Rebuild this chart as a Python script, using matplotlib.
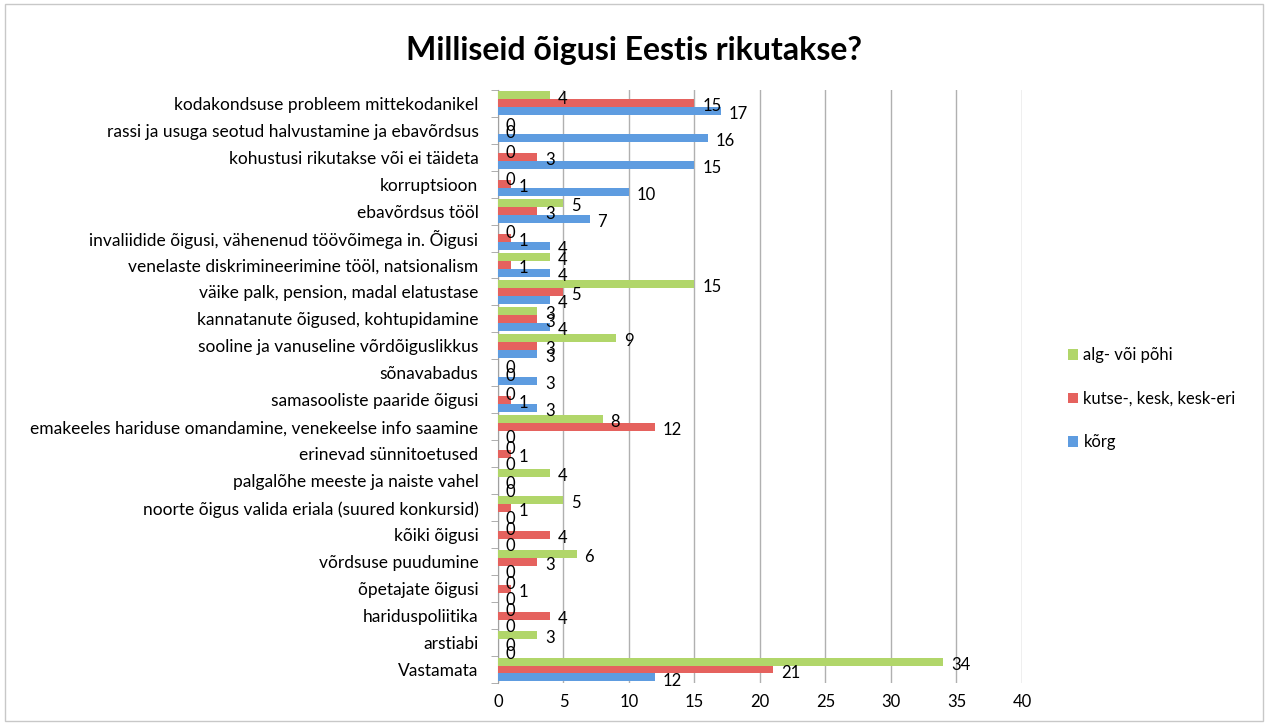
import numpy as np
import matplotlib.pyplot as plt
from matplotlib.patches import Rectangle

plt.rcParams['font.family'] = ['Lato', 'DejaVu Sans']

categories = [
    "kodakondsuse probleem mittekodanikel",
    "rassi ja usuga seotud halvustamine ja ebavõrdsus",
    "kohustusi rikutakse või ei täideta",
    "korruptsioon",
    "ebavõrdsus tööl",
    "invaliidide õigusi, vähenenud töövõimega in. Õigusi",
    "venelaste diskrimineerimine tööl, natsionalism",
    "väike palk, pension, madal elatustase",
    "kannatanute õigused, kohtupidamine",
    "sooline ja vanuseline võrdõiguslikkus",
    "sõnavabadus",
    "samasooliste paaride õigusi",
    "emakeeles hariduse omandamine, venekeelse info saamine",
    "erinevad sünnitoetused",
    "palgalõhe meeste ja naiste vahel",
    "noorte õigus valida eriala (suured konkursid)",
    "kõiki õigusi",
    "võrdsuse puudumine",
    "õpetajate õigusi",
    "hariduspoliitika",
    "arstiabi",
    "Vastamata",
]
alg = [4, 0, 0, 0, 5, 0, 4, 15, 3, 9, 0, 0, 8, 0, 4, 5, 0, 6, 0, 0, 3, 34]
kutse = [15, 0, 3, 1, 3, 1, 1, 5, 3, 3, 0, 1, 12, 1, 0, 1, 4, 3, 1, 4, 0, 21]
korg = [17, 16, 15, 10, 7, 4, 4, 4, 4, 3, 3, 3, 0, 0, 0, 0, 0, 0, 0, 0, 0, 12]

series = [
    ("alg- või põhi", alg, "#b1d66a"),
    ("kutse-, kesk, kesk-eri", kutse, "#e5625e"),
    ("kõrg", korg, "#5e9ce0"),
]

fig = plt.figure(figsize=(12.68, 7.24), dpi=100)
fig.patches.append(Rectangle((0.004, 0.004), 0.992, 0.99, transform=fig.transFigure,
                             fill=False, edgecolor="#c8c8c8", linewidth=1))
ax = fig.add_axes([0.3927, 0.0566, 0.4133, 0.8195])

n = len(categories)
y = np.arange(n)
h = 0.29
offsets = [-h, 0, h]
for (name, vals, col), off in zip(series, offsets):
    ax.barh(y + off, vals, height=h, color=col, label=name, zorder=3)
    for yi, v in zip(y, vals):
        ax.text(v + 0.6, yi + off + 0.12, str(v), va="center", ha="left",
                fontsize=12, color="black", zorder=4)

ax.set_ylim(n - 0.5, -0.5)
ax.set_xlim(0, 40)
ax.set_xticks(range(0, 41, 5))
ax.set_yticks(y)
ax.set_yticklabels(categories, fontsize=12.5)
ax.set_yticks(np.arange(-0.5, n, 1), minor=True)
ax.tick_params(axis="y", which="major", length=0, pad=14)
ax.tick_params(axis="y", which="minor", length=5, color="#a0a0a0")
ax.tick_params(axis="x", length=0, labelsize=12, pad=8)
ax.grid(axis="x", color="#b0b0b0", linewidth=1, zorder=0)
for s in ["top", "right", "bottom"]:
    ax.spines[s].set_visible(False)
ax.spines["left"].set_color("#a0a0a0")

fig.text(0.5, 0.93, "Milliseid õigusi Eestis rikutakse?", ha="center", va="center",
         fontsize=23, fontweight="bold")

ax.legend(loc="center left", bbox_to_anchor=(1.06, 0.479), frameon=False,
          fontsize=12, handlelength=0.6, handleheight=0.6, labelspacing=1.65,
          handletextpad=0.3)

fig.savefig("out.png", dpi=100)
